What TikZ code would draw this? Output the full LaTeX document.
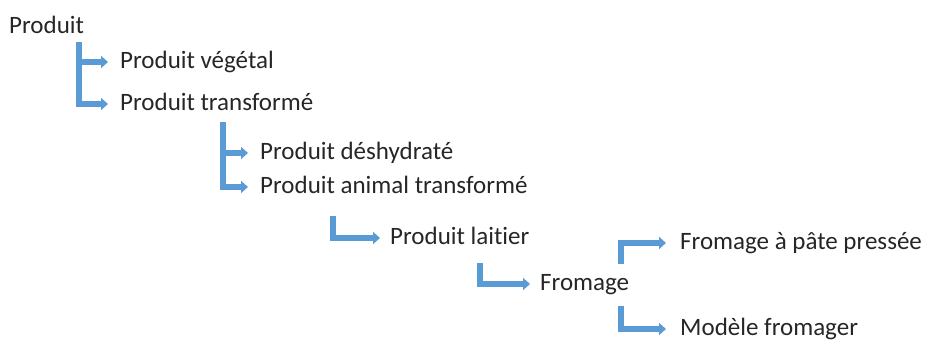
\documentclass[tikz,border=0pt]{standalone}
\usepackage{fontspec}
\setmainfont{Carlito}[Ligatures={NoCommon}]
\usetikzlibrary{arrows.meta}
\definecolor{brblue}{HTML}{5B9BD5}
\definecolor{txt}{HTML}{262626}
\tikzset{
  lbl/.style={anchor=west, inner sep=0pt, text height=12pt, text depth=0pt, font=\fontsize{25}{29}\selectfont, text=txt},
  br/.style={draw=brblue, line width=5.5pt, -{Triangle[length=7pt,width=12pt]}}
}
\begin{document}
\begin{tikzpicture}[x=1pt,y=-1pt]
\useasboundingbox (0,0) rectangle (927,340);
\node[lbl] (p)   at (9,27)   {Produit};
\node[lbl] (veg) at (120,62) {Produit végétal};
\node[lbl] (tr)  at (120,104) {Produit transformé};
\node[lbl] (des) at (260,153) {Produit déshydraté};
\node[lbl] (ani) at (260,187) {Produit animal transformé};
\node[lbl] (lai) at (390,238) {Produit laitier};
\node[lbl] (fro) at (540,284) {Fromage};
\node[lbl] (fpp) at (680,243) {Fromage à pâte pressée};
\node[lbl] (mod) at (680,329) {Modèle fromager};
\coordinate (c1) at (79,42);
\coordinate (c2) at (223,122);
\coordinate (c3) at (333,216);
\coordinate (c4) at (480,263);
\coordinate (c5) at (621,264);
\coordinate (c6) at (621,306);
\draw[br] (c1) |- ([xshift=-12pt]veg.west);
\draw[br] (c1) |- ([xshift=-12pt]tr.west);
\draw[br] (c2) |- ([xshift=-12pt]des.west);
\draw[br] (c2) |- ([xshift=-12pt]ani.west);
\draw[br] (c3) |- ([xshift=-10pt]lai.west);
\draw[br] (c4) |- ([xshift=-10pt]fro.west);
\draw[br] (c5) |- ([xshift=-14pt]fpp.west);
\draw[br] (c6) |- ([xshift=-14pt]mod.west);
\end{tikzpicture}
\end{document}
